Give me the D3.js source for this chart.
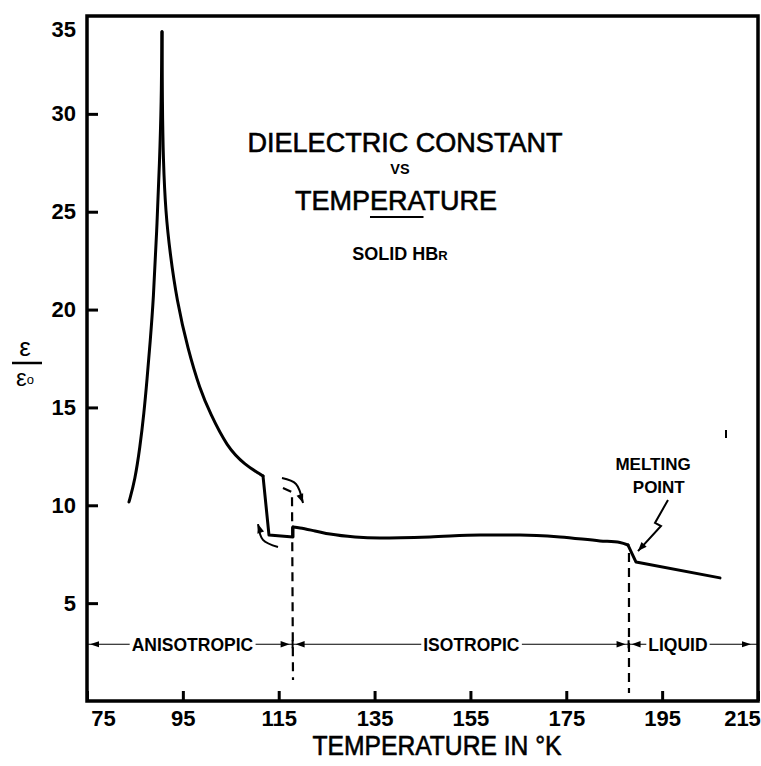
<!DOCTYPE html>
<html>
<head>
<meta charset="utf-8">
<script src="https://cdn.jsdelivr.net/npm/d3@7"></script>
<style>
  html, body { margin: 0; padding: 0; background: #fff; }
  svg { display: block; }
  text { font-family: "Liberation Sans", Arial, sans-serif; fill: #000; }
</style>
</head>
<body>
<div id="chart"></div>
<script>
let w = 761;
let h = 766;

// axis ticks
let tempTicks = [75, 95, 115, 135, 155, 175, 195, 215];
let epsTicks = [5, 10, 15, 20, 25, 30, 35];

// curve: [temperature K, eps/eps0]
let riseBranch = [
  [83.76, 10.17], [85.01, 11.29], [86.06, 12.98], [86.89, 14.72], [87.52, 16.40],
  [88.20, 18.40], [88.85, 20.49], [89.55, 24.00], [90.15, 27.60], [90.50, 30.50],
  [90.65, 34.19]
];
let fallBranch = [
  [90.65, 34.19], [90.72, 30.50], [90.90, 27.64], [91.42, 24.94], [92.32, 22.90],
  [93.72, 20.49], [96.07, 17.94], [98.60, 15.90], [100.66, 14.72], [104.21, 12.98],
  [107.97, 12.06], [111.72, 11.50]
];
let transitionStep = [
  [111.72, 11.50], [112.97, 8.48], [117.98, 8.38], [117.98, 8.89]
];
let isotropic = [
  [117.98, 8.89], [119.44, 8.84], [122.57, 8.69], [125.70, 8.53], [130.92, 8.38],
  [136.13, 8.33], [146.56, 8.38], [157.00, 8.48], [165.34, 8.48], [173.69, 8.38],
  [182.03, 8.18], [186.21, 8.10], [187.88, 7.97]
];
let liquid = [
  [187.88, 7.97], [189.55, 7.10], [207.07, 6.29]
];

// phases along the bottom
let phaseEdges = [75, 117.9, 188.0, 215];
let phaseNames = ["ANISOTROPIC", "ISOTROPIC", "LIQUID"];
let phaseLabelT = [97.0, 155.2, 198.3];
let phaseLevel = 2.9;

// annotations
let dashTransition = [[115.89, 10.88], [117.77, 10.68], [117.98, 1.07]];
let dashMelting = [[188.08, 7.56], [188.08, 0.41]];
let arrowHeating = [[115.68, 11.39], [118.60, 11.09], [120.07, 10.12]];
let arrowCooling = [[114.85, 7.87], [111.72, 8.23], [110.68, 9.04]];
let arrowMelting = [[196.22, 10.27], [193.51, 9.10], [194.76, 8.94], [189.96, 7.66]];

let svg = d3.select("#chart")
  .append("svg")
    .attr("width", w)
    .attr("height", h);

let x = d3.scaleLinear().domain([75, 215]).range([87, 758]);
let y = d3.scaleLinear().domain([0, 35]).range([701, 16]);

// frame
svg.append("rect")
  .attr("x", x(75))
  .attr("y", y(35))
  .attr("width", x(215) - x(75))
  .attr("height", y(0) - y(35))
  .attr("fill", "none")
  .attr("stroke", "#000")
  .attr("stroke-width", 3.5);

// axes, ticks pointing inward
let xAxis = svg.append("g")
  .attr("transform", `translate(0,${y(0)})`)
  .call(d3.axisBottom(x).tickValues(tempTicks).tickSize(-10).tickPadding(9).tickFormat(d3.format("d")));

let yAxis = svg.append("g")
  .attr("transform", `translate(${x(75)},0)`)
  .call(d3.axisLeft(y).tickValues(epsTicks).tickSize(-11).tickPadding(11).tickFormat(d3.format("d")));

svg.selectAll(".domain").remove();
svg.selectAll(".tick line").attr("stroke", "#000").attr("stroke-width", 3);
svg.selectAll(".tick text")
  .attr("font-family", "'Liberation Sans', Arial, sans-serif")
  .attr("font-size", 22)
  .attr("font-weight", "bold")
  .attr("fill", "#000");

// edge labels sit inside the frame corners
xAxis.selectAll(".tick").filter(d => d === 75).select("text").attr("dx", 16);
xAxis.selectAll(".tick").filter(d => d === 215).select("text").attr("dx", -16);
yAxis.selectAll(".tick").filter(d => d === 35).select("line").remove();
yAxis.selectAll(".tick").filter(d => d === 35).select("text").attr("dy", "0.95em");

let line = d3.line().x(d => x(d[0])).y(d => y(d[1]));
let smooth = d3.line().x(d => x(d[0])).y(d => y(d[1])).curve(d3.curveBasis);
let flat = d3.line().x(d => x(d[0])).y(d => y(d[1])).curve(d3.curveMonotoneX);
let bend = d3.line().x(d => x(d[0])).y(d => y(d[1])).curve(d3.curveCatmullRom);

let curves = svg.append("g")
  .attr("fill", "none")
  .attr("stroke", "#000")
  .attr("stroke-width", 3)
  .attr("stroke-linejoin", "round")
  .attr("stroke-linecap", "round");

curves.append("path").attr("d", smooth(riseBranch));
curves.append("path").attr("d", smooth(fallBranch));
curves.append("path").attr("d", line(transitionStep));
curves.append("path").attr("d", flat(isotropic));
curves.append("path").attr("d", line(liquid));

// dashed transition lines
svg.selectAll(".dash")
  .data([dashTransition, dashMelting])
  .enter().append("path")
    .attr("class", "dash")
    .attr("d", line)
    .attr("fill", "none")
    .attr("stroke", "#000")
    .attr("stroke-width", 2.2)
    .attr("stroke-dasharray", "9,6");

function arrowHead(px, py, angle, len, half) {
  let a = angle * Math.PI / 180;
  let bx = px - len * Math.cos(a), by = py - len * Math.sin(a);
  let nx = -Math.sin(a) * half, ny = Math.cos(a) * half;
  svg.append("path")
    .attr("d", `M${px},${py}L${bx + nx},${by + ny}L${bx - nx},${by - ny}Z`)
    .attr("fill", "#000");
}

function curvedArrow(pts, curveFn) {
  svg.append("path")
    .attr("d", curveFn(pts))
    .attr("fill", "none")
    .attr("stroke", "#000")
    .attr("stroke-width", 2);
  let p1 = pts[pts.length - 2], p2 = pts[pts.length - 1];
  let ang = Math.atan2(y(p2[1]) - y(p1[1]), x(p2[0]) - x(p1[0])) * 180 / Math.PI;
  arrowHead(x(p2[0]), y(p2[1]), ang, 9, 3.5);
}

curvedArrow(arrowHeating, bend);
curvedArrow(arrowCooling, bend);
curvedArrow(arrowMelting, line);

// phase line
let py = y(phaseLevel);
let phaseG = svg.append("g");
phaseG.append("line")
  .attr("x1", x(75)).attr("x2", x(215))
  .attr("y1", py).attr("y2", py)
  .attr("stroke", "#000")
  .attr("stroke-width", 1.2);

phaseNames.forEach((name, i) => {
  let bg = phaseG.append("rect").attr("fill", "#fff");
  let t = phaseG.append("text")
    .attr("x", x(phaseLabelT[i]))
    .attr("y", py + 6.5)
    .attr("text-anchor", "middle")
    .attr("font-size", 17.5)
    .attr("font-weight", "bold")
    .text(name);
  let bb = t.node().getBBox();
  bg.attr("x", bb.x - 2).attr("y", py - 3)
    .attr("width", bb.width + 4).attr("height", 6);
});

arrowHead(x(75) + 3, py, 180, 9, 3);
arrowHead(x(215) - 7, py, 0, 9, 3);
phaseEdges.slice(1, 3).forEach(t => {
  arrowHead(x(t) - 3, py, 0, 9, 3.2);
  arrowHead(x(t) + 3, py, 180, 9, 3.2);
  svg.append("line")
    .attr("x1", x(t)).attr("x2", x(t))
    .attr("y1", py - 4).attr("y2", py + 4)
    .attr("stroke", "#000").attr("stroke-width", 2);
});

// melting point note
svg.append("text")
  .attr("x", x(193.1)).attr("y", y(11.8))
  .attr("text-anchor", "middle")
  .attr("font-size", 17)
  .attr("font-weight", "bold")
  .text("MELTING");
svg.append("text")
  .attr("x", x(194.3)).attr("y", y(10.62))
  .attr("text-anchor", "middle")
  .attr("font-size", 17)
  .attr("font-weight", "bold")
  .text("POINT");

// stray pen mark
svg.append("line")
  .attr("x1", 726).attr("x2", 726)
  .attr("y1", 430).attr("y2", 438)
  .attr("stroke", "#000").attr("stroke-width", 2);

// title block
svg.append("text")
  .attr("x", 405).attr("y", 152)
  .attr("text-anchor", "middle")
  .attr("font-size", 27)
  .attr("stroke", "#000").attr("stroke-width", 0.6)
  .attr("textLength", 315)
  .attr("lengthAdjust", "spacingAndGlyphs")
  .text("DIELECTRIC CONSTANT");

svg.append("text")
  .attr("x", 400).attr("y", 174)
  .attr("text-anchor", "middle")
  .attr("font-size", 14.5)
  .attr("font-weight", "bold")
  .text("VS");

let temp = svg.append("text")
  .attr("x", 396).attr("y", 210)
  .attr("text-anchor", "middle")
  .attr("font-size", 27)
  .attr("stroke", "#000").attr("stroke-width", 0.6)
  .attr("textLength", 202)
  .attr("lengthAdjust", "spacingAndGlyphs")
  .text("TEMPERATURE");

let n = temp.node();
let u0 = n.getStartPositionOfChar(4).x;
let u1 = n.getEndPositionOfChar(6).x;
svg.append("line")
  .attr("x1", u0).attr("x2", u1)
  .attr("y1", 217).attr("y2", 217)
  .attr("stroke", "#000").attr("stroke-width", 2);

let solid = svg.append("text")
  .attr("x", 400).attr("y", 260)
  .attr("text-anchor", "middle")
  .attr("font-size", 18)
  .attr("font-weight", "bold")
  .text("SOLID HB");
solid.append("tspan").attr("font-size", 13).text("R");

// axis titles
svg.append("text")
  .attr("x", 437).attr("y", 755)
  .attr("text-anchor", "middle")
  .attr("font-size", 27)
  .attr("stroke", "#000").attr("stroke-width", 0.6)
  .attr("textLength", 249)
  .attr("lengthAdjust", "spacingAndGlyphs")
  .text("TEMPERATURE IN °K");

let yl = svg.append("g").attr("class", "ylabel");
yl.append("text")
  .attr("x", 25).attr("y", 356)
  .attr("text-anchor", "middle")
  .attr("font-size", 26)
  .text("ε");
yl.append("line")
  .attr("x1", 12).attr("x2", 42)
  .attr("y1", 363).attr("y2", 363)
  .attr("stroke", "#000").attr("stroke-width", 2.5);
let eps0 = yl.append("text")
  .attr("x", 16).attr("y", 386)
  .attr("font-size", 24)
  .text("ε");
eps0.append("tspan").attr("font-size", 13).attr("dy", -2).text("o");
</script>
</body>
</html>
